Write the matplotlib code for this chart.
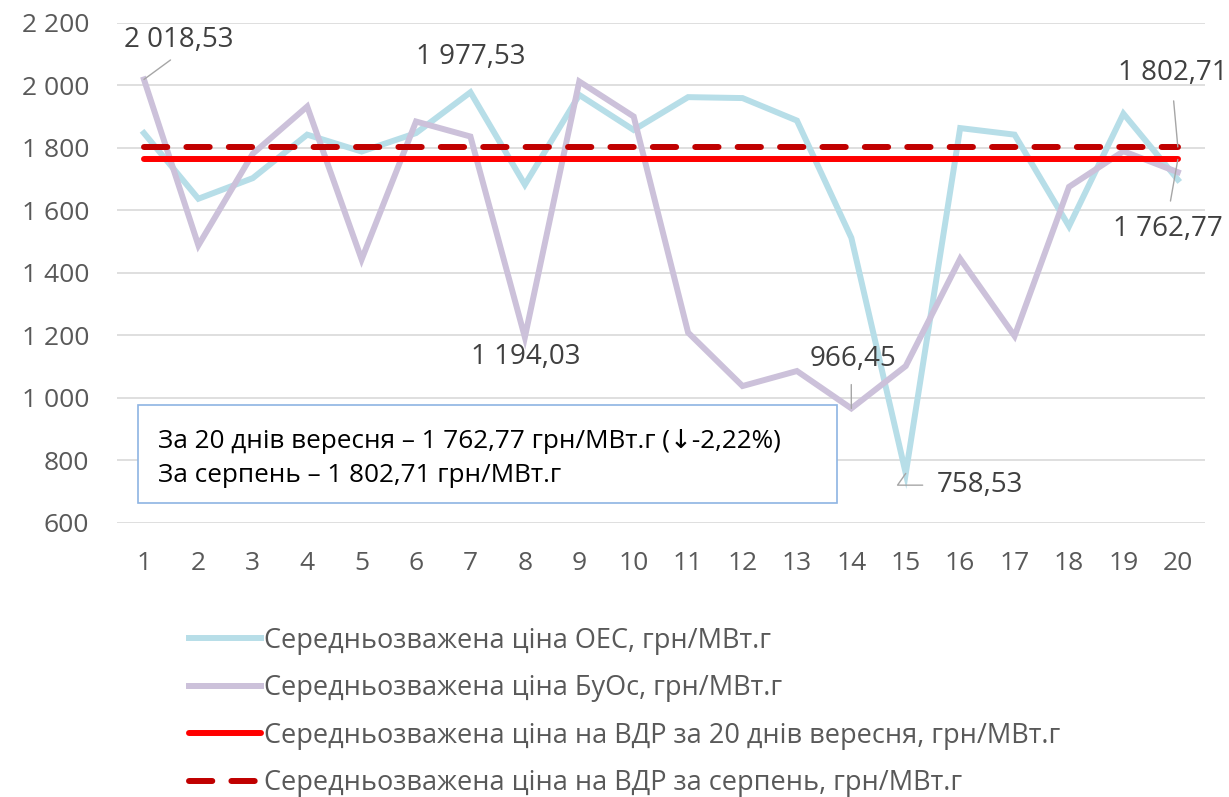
import matplotlib
matplotlib.use("Agg")
import matplotlib.pyplot as plt
from matplotlib.patches import Rectangle

plt.rcParams['font.family'] = ['Open Sans', 'DejaVu Sans']

days = list(range(1, 21))
oes = [1847, 1637, 1703, 1842, 1788, 1847, 1977.53, 1682, 1969, 1857,
       1962, 1959, 1887, 1512, 758.53, 1863, 1842, 1549, 1909, 1698]
buos = [2018.53, 1488, 1781, 1932, 1443, 1884, 1836, 1194.03, 2012, 1900,
        1209, 1038, 1086, 966.45, 1102, 1445, 1198, 1675, 1789, 1722]
avg_sep = 1762.77
avg_aug = 1802.71
y_ticks = [600, 800, 1000, 1200, 1400, 1600, 1800, 2000, 2200]
y_labels = ["600", "800", "1 000", "1 200", "1 400", "1 600", "1 800", "2 000", "2 200"]

labels = ["Середньозважена ціна ОЕС, грн/МВт.г",
          "Середньозважена ціна БуОс, грн/МВт.г",
          "Середньозважена ціна на ВДР за 20 днів вересня, грн/МВт.г",
          "Середньозважена ціна на ВДР за серпень, грн/МВт.г"]
box_lines = ["За 20 днів вересня – 1 762,77 грн/МВт.г (↓-2,22%)",
             "За серпень – 1 802,71 грн/МВт.г"]

fig = plt.figure(figsize=(12.29, 7.97), dpi=100)
ax = fig.add_axes([0.095, 0.3438, 0.8855, 0.6277])

lw = 4.3
ax.plot(days, oes, color='#B7DEE8', lw=lw, label=labels[0], solid_joinstyle='miter')
ax.plot(days, buos, color='#CCC1DA', lw=lw, label=labels[1], solid_joinstyle='miter')
ax.plot(days, [avg_sep] * 20, color='#FF0000', lw=lw, label=labels[2],
        solid_capstyle='round')
ax.plot(days, [avg_aug] * 20, color='#C00000', lw=lw, label=labels[3],
        dashes=(3.9, 3.2), dash_capstyle='round')

ax.set_xlim(0.5, 20.5)
ax.set_ylim(600, 2200)
ax.set_xticks(days)
ax.set_yticks(y_ticks)
ax.set_yticklabels(y_labels)
ax.tick_params(length=0, labelsize=19, labelcolor='#595959')
ax.tick_params(axis='x', pad=20)
ax.tick_params(axis='y', pad=20)
ax.grid(axis='y', color='#D9D9D9', lw=1.2)
ax.set_axisbelow(True)
for s in ax.spines.values():
    s.set_visible(False)

# data labels
lab_kw = dict(fontsize=20, color='#404040', ha='center', va='center', annotation_clip=False)
lead = dict(arrowstyle='-', color='#A6A6A6', lw=1, shrinkA=0, shrinkB=0)
ax.annotate("2 018,53", xy=(1, buos[0]), xytext=(1.64, 2145),
            arrowprops=dict(lead, relpos=(0.5, 0), shrinkA=4), **lab_kw)
ax.annotate("1 977,53", xy=(7, oes[6]), xytext=(7.0, 2090), **lab_kw)
ax.annotate("1 194,03", xy=(8, buos[7]), xytext=(8.02, 1130), **lab_kw)
ax.annotate("966,45", xy=(14, buos[13]), xytext=(14.03, 1123),
            arrowprops=dict(lead, relpos=(0.48, 0), shrinkA=6), **lab_kw)
ax.annotate("758,53", xy=(15, oes[14]), xytext=(16.36, 721),
            arrowprops=dict(lead, relpos=(0, 0.5), shrinkA=8,
                            connectionstyle='angle,angleA=0,angleB=55,rad=0'), **lab_kw)
ax.annotate("1 802,71", xy=(20, avg_aug), xytext=(19.9, 2039),
            arrowprops=dict(lead, relpos=(0.5, 0), shrinkA=8), **lab_kw)
ax.annotate("1 762,77", xy=(20, avg_sep), xytext=(19.82, 1541),
            arrowprops=dict(lead, relpos=(0.5, 1), shrinkA=8), **lab_kw)

# text box
ax.add_patch(Rectangle((0.0194, 0.040), 0.6425, 0.196, transform=ax.transAxes,
                       facecolor='white', edgecolor='#8EB4E3', lw=1.2, zorder=5))
ax.text(0.0379, 0.162, box_lines[0], transform=ax.transAxes, fontsize=18.8,
        color='black', va='center', zorder=6)
ax.text(0.0379, 0.094, box_lines[1], transform=ax.transAxes, fontsize=18.8,
        color='black', va='center', zorder=6)

fig.legend(loc='upper left', bbox_to_anchor=(0.1535, 0.2135), frameon=False,
           fontsize=19.5, labelcolor='#595959', handlelength=2.66, handletextpad=0.12,
           labelspacing=0.72, borderpad=0, borderaxespad=0)

fig.savefig("out.png", dpi=100)
